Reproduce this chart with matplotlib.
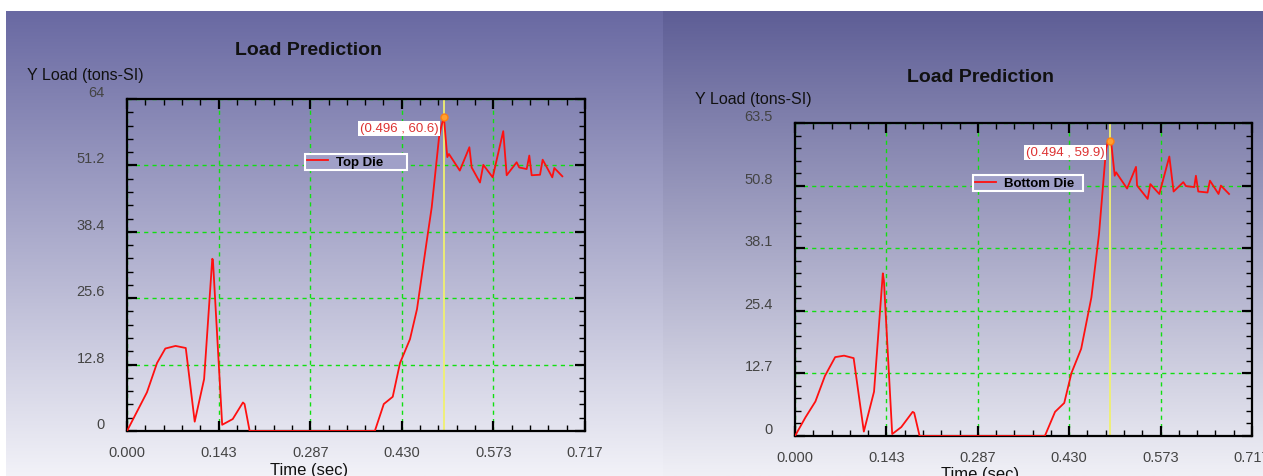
import numpy as np
import matplotlib
matplotlib.use('Agg')
from matplotlib import pyplot as plt
from matplotlib.ticker import FixedLocator

plt.rcParams['font.family'] = ['Liberation Sans', 'DejaVu Sans']

# data
top_t = [0.0, 0.0312, 0.047, 0.060, 0.076, 0.092, 0.106, 0.1207, 0.1335, 0.1345, 0.149,
         0.1655, 0.1815, 0.184, 0.192, 0.388, 0.402, 0.416, 0.4274, 0.443, 0.454, 0.469,
         0.477, 0.4885, 0.4916, 0.496, 0.5014, 0.504, 0.521, 0.536, 0.5396, 0.5526, 0.5578,
         0.5725, 0.589, 0.5944, 0.610, 0.614, 0.6257, 0.6298, 0.6335, 0.6466, 0.6507,
         0.6658, 0.669, 0.6815]
top_load = [0.0, 7.45, 13.1, 15.9, 16.4, 16.0, 1.8, 10.0, 33.2, 33.0, 1.2,
            2.3, 5.5, 5.2, 0.0, 0.0, 5.2, 6.6, 13.1, 17.7, 23.5, 36.4,
            43.1, 56.6, 58.5, 60.6, 52.8, 53.4, 50.2, 54.7, 50.8, 47.9, 51.3,
            48.9, 57.8, 49.3, 51.8, 50.8, 50.5, 53.1, 49.3, 49.4, 52.3,
            48.9, 50.7, 49.1]

bot_t = [0.0, 0.0165, 0.032, 0.047, 0.063, 0.077, 0.092, 0.108, 0.124, 0.1378, 0.1395,
         0.1525, 0.1667, 0.1846, 0.187, 0.1955, 0.392, 0.408, 0.4224, 0.4338, 0.449, 0.465,
         0.477, 0.488, 0.4906, 0.494, 0.4964, 0.5016, 0.5038, 0.521, 0.535, 0.5367, 0.5533,
         0.5575, 0.5716, 0.5873, 0.594, 0.6092, 0.6134, 0.6264, 0.629, 0.6327, 0.6472,
         0.651, 0.6645, 0.6682, 0.681]
bot_load = [0.0, 3.8, 7.0, 12.2, 16.0, 16.3, 15.8, 0.9, 9.0, 33.0, 31.5,
            0.4, 1.8, 4.9, 4.7, 0.0, 0.0, 4.9, 6.7, 12.8, 17.7, 28.1,
            41.0, 58.2, 59.6, 59.9, 59.2, 52.8, 53.5, 50.2, 54.6, 50.8, 48.1,
            51.1, 49.1, 56.7, 49.6, 51.5, 50.7, 50.5, 52.8, 49.6, 49.4,
            51.8, 49.1, 50.8, 49.1]

x_ticks = [0.0, 0.1434, 0.2868, 0.4302, 0.5736, 0.717]
x_labels = ['0.000', '0.143', '0.287', '0.430', '0.573', '0.717']
top_yticks = [0, 12.8, 25.6, 38.4, 51.2, 64]
top_ylabels = ['0', '12.8', '25.6', '38.4', '51.2', '64']
bot_yticks = [0, 12.7, 25.4, 38.1, 50.8, 63.5]
bot_ylabels = ['0', '12.7', '25.4', '38.1', '50.8', '63.5']

top_peak = (0.496, 60.6)
bot_peak = (0.494, 59.9)

W, H = 1263, 477
fig = plt.figure(figsize=(W / 100, H / 100), dpi=100)
fig.patch.set_facecolor('white')

# gradient backgrounds of the two screenshots
bg = fig.add_axes([0, 0, 1, 1], zorder=-10)
bg.set_xlim(0, W)
bg.set_ylim(H, 0)
bg.axis('off')


def gradient(top, bottom, n=256):
    f = np.linspace(0, 1, n)[:, None]
    c = (np.array(top)[None, :] * (1 - f) + np.array(bottom)[None, :] * f) / 255.0
    return c[:, None, :]


bg.imshow(gradient((105, 105, 162), (242, 242, 248)), extent=[6, 663, H, 12], aspect='auto')
bg.imshow(gradient((94, 94, 150), (240, 240, 246)), extent=[663, W, H, 12], aspect='auto')


def panel(rect, t, load, yticks, ylabels, peak, name, title_pos, ylab_pos, xlab_y):
    ax = fig.add_axes(rect)
    ax.set_facecolor('none')
    ax.set_xlim(0, 0.717)
    ax.set_ylim(0, yticks[-1])

    ax.xaxis.set_major_locator(FixedLocator(x_ticks))
    ax.set_xticklabels(x_labels)
    ax.xaxis.set_minor_locator(FixedLocator(np.linspace(0, 0.717, 26)))
    ax.yaxis.set_major_locator(FixedLocator(yticks))
    ax.set_yticklabels(ylabels)
    ax.yaxis.set_minor_locator(FixedLocator(np.linspace(0, yticks[-1], 26)))
    for lab in ax.get_yticklabels():
        lab.set_verticalalignment('bottom')

    ax.tick_params(which='both', direction='in', top=True, right=True, colors='black',
                   labelcolor='#444444', labelsize=10.5)
    ax.tick_params(which='major', length=7, width=1.6)
    ax.tick_params(which='minor', length=4, width=1.0)
    ax.tick_params(axis='x', pad=10)
    ax.tick_params(axis='y', pad=16)
    for s in ax.spines.values():
        s.set_linewidth(1.6)

    ax.grid(True, which='major', color='#10e010', linestyle=(0, (3, 3)), linewidth=1.0)

    ax.axvline(peak[0], color='#f0f070', linewidth=1.3, zorder=2)
    ax.plot(t, load, color='#ff1010', linewidth=1.3, label=name, zorder=3)
    ax.plot([peak[0]], [peak[1]], 'o', ms=5, mec='#ff7f10', mfc='#ffa030', zorder=4)
    ax.annotate('(%.3f , %.1f)' % peak, xy=peak, xytext=(-4, -4), textcoords='offset points',
                ha='right', va='top', fontsize=9.5, color='#dd3333',
                bbox=dict(boxstyle='square,pad=0.1', fc='white', ec='none'), zorder=5)

    leg = ax.legend(loc='upper left', bbox_to_anchor=(0.375, 0.855), fancybox=False,
                    framealpha=1, handlelength=1.6, handletextpad=0.6, borderpad=0.15,
                    prop={'weight': 'bold', 'size': 9.5})
    leg.get_frame().set_facecolor('#a0a0c8')
    leg.get_frame().set_edgecolor('white')
    leg.get_frame().set_linewidth(1.5)

    ax.text(title_pos[0], title_pos[1], 'Load Prediction', transform=ax.transAxes,
            ha='center', va='center', fontsize=14, fontweight='bold', color='#111111')
    ax.text(ylab_pos[0], ylab_pos[1], 'Y Load (tons-SI)', transform=ax.transAxes,
            ha='left', va='center', fontsize=11.5, color='#111111')
    ax.set_xlabel('Time (sec)', fontsize=12, color='#111111')
    ax.xaxis.set_label_coords(title_pos[0], xlab_y)
    ax.xaxis.label.set_verticalalignment('center')
    return ax


panel([127 / W, 1 - 432 / H, 458 / W, 332 / H], top_t, top_load, top_yticks, top_ylabels,
      top_peak, 'Top Die      ', (0.397, 1.1506), (-0.218, 1.075), -0.1145)
panel([795 / W, 1 - 437 / H, 457 / W, 313 / H], bot_t, bot_load, bot_yticks, bot_ylabels,
      bot_peak, 'Bottom Die  ', (0.405, 1.150), (-0.219, 1.0767), -0.12)

fig.savefig('out.png', dpi=100)
